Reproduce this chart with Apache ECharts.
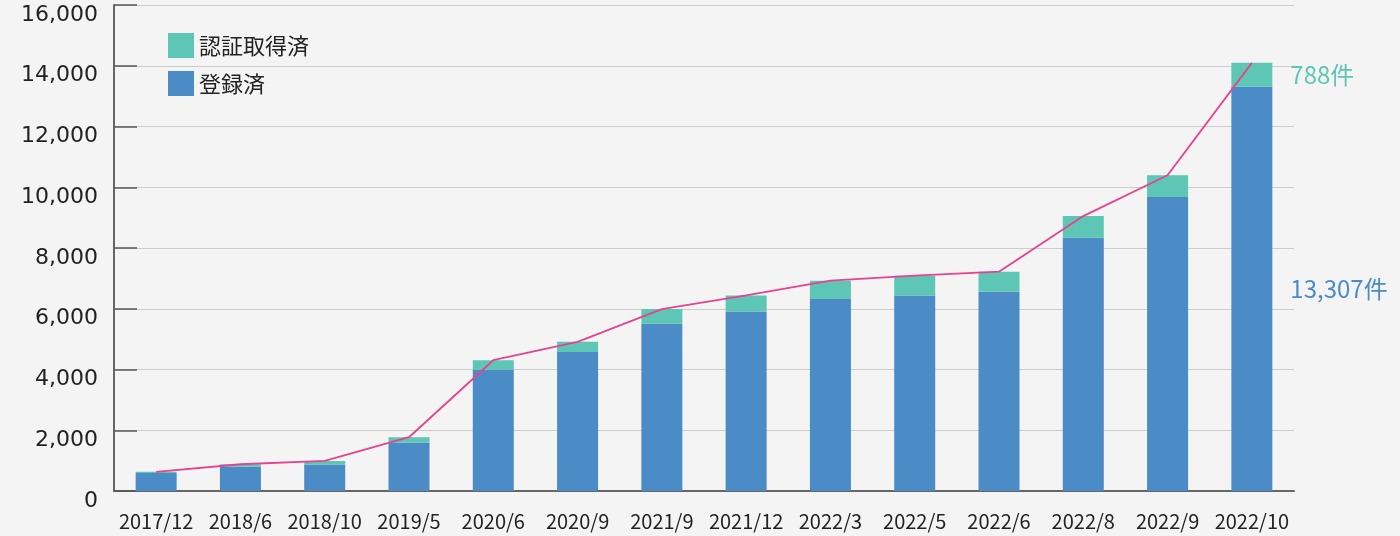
<!DOCTYPE html>
<html>
<head>
<meta charset="utf-8">
<script src="https://cdn.jsdelivr.net/npm/echarts@6/dist/echarts.min.js"></script>
<style>
html,body{margin:0;padding:0;background:#f4f4f4;}
#chart{width:1400px;height:536px;}
</style>
</head>
<body>
<div id="chart"></div>
<script>
const categories = ['2017/12','2018/6','2018/10','2019/5','2020/6','2020/9','2021/9','2021/12','2022/3','2022/5','2022/6','2022/8','2022/9','2022/10'];
const registered = [595, 795, 870, 1590, 4000, 4580, 5505, 5910, 6320, 6440, 6560, 8335, 9675, 13307];
const certified = [35, 85, 120, 180, 305, 330, 485, 530, 605, 650, 660, 715, 720, 788];
const seriesNames = ['認証取得済', '登録済'];
const unit = '件';

const total = registered.map((v, i) => v + certified[i]);
const last = categories.length - 1;

const BLUE = '#4c8cc6';
const TEAL = '#5dc6b4';
const PINK = '#e6428f';

function withLastLabel(arr, color) {
  return arr.map((v, i) => i === last ? {
    value: v,
    label: {
      show: true, position: 'right', distance: 18,
      color: color, fontSize: 24, fontFamily: 'Noto Sans CJK JP',
      formatter: p => p.value.toLocaleString('en-US') + unit
    }
  } : v);
}

const chart = echarts.init(document.getElementById('chart'));
chart.setOption({
  backgroundColor: '#f4f4f4',
  animation: false,
  grid: { left: 114, right: 106, top: 5, bottom: 45, containLabel: false, outerBoundsMode: 'none' },
  legend: {
    data: [seriesNames[0], seriesNames[1]],
    orient: 'vertical',
    left: 163, top: 28,
    itemWidth: 26, itemHeight: 25, itemGap: 13,
    icon: 'rect',
    textStyle: { fontSize: 22, color: '#222', fontFamily: 'Noto Sans CJK JP' }
  },
  xAxis: {
    type: 'category',
    data: categories,
    axisLine: { lineStyle: { color: '#666', width: 2 } },
    axisTick: { inside: true, length: 12, alignWithLabel: false, lineStyle: { color: '#333', width: 1.5 } },
    axisLabel: { fontSize: 20, color: '#222', margin: 20, fontFamily: 'Noto Sans CJK JP', interval: 0 }
  },
  yAxis: {
    type: 'value',
    min: 0, max: 16000, interval: 2000,
    axisLine: { show: true, lineStyle: { color: '#666', width: 2 } },
    axisTick: { show: true, inside: true, length: 23, lineStyle: { color: '#555', width: 1.5 } },
    splitLine: { lineStyle: { color: '#cccccc', width: 1 } },
    axisLabel: {
      fontSize: 22, color: '#222', margin: 16, fontFamily: 'DejaVu Sans',
      verticalAlign: 'top', lineHeight: 20,
      formatter: v => v.toLocaleString('en-US')
    }
  },
  series: [
    {
      name: seriesNames[1], type: 'bar', stack: 'a', barWidth: 41,
      itemStyle: { color: BLUE },
      data: withLastLabel(registered, BLUE)
    },
    {
      name: seriesNames[0], type: 'bar', stack: 'a', barWidth: 41,
      itemStyle: { color: TEAL },
      data: withLastLabel(certified, TEAL)
    },
    {
      name: 'total', type: 'line', symbol: 'none',
      lineStyle: { color: PINK, width: 1.8 },
      data: total, z: 5
    }
  ]
});
</script>
</body>
</html>
